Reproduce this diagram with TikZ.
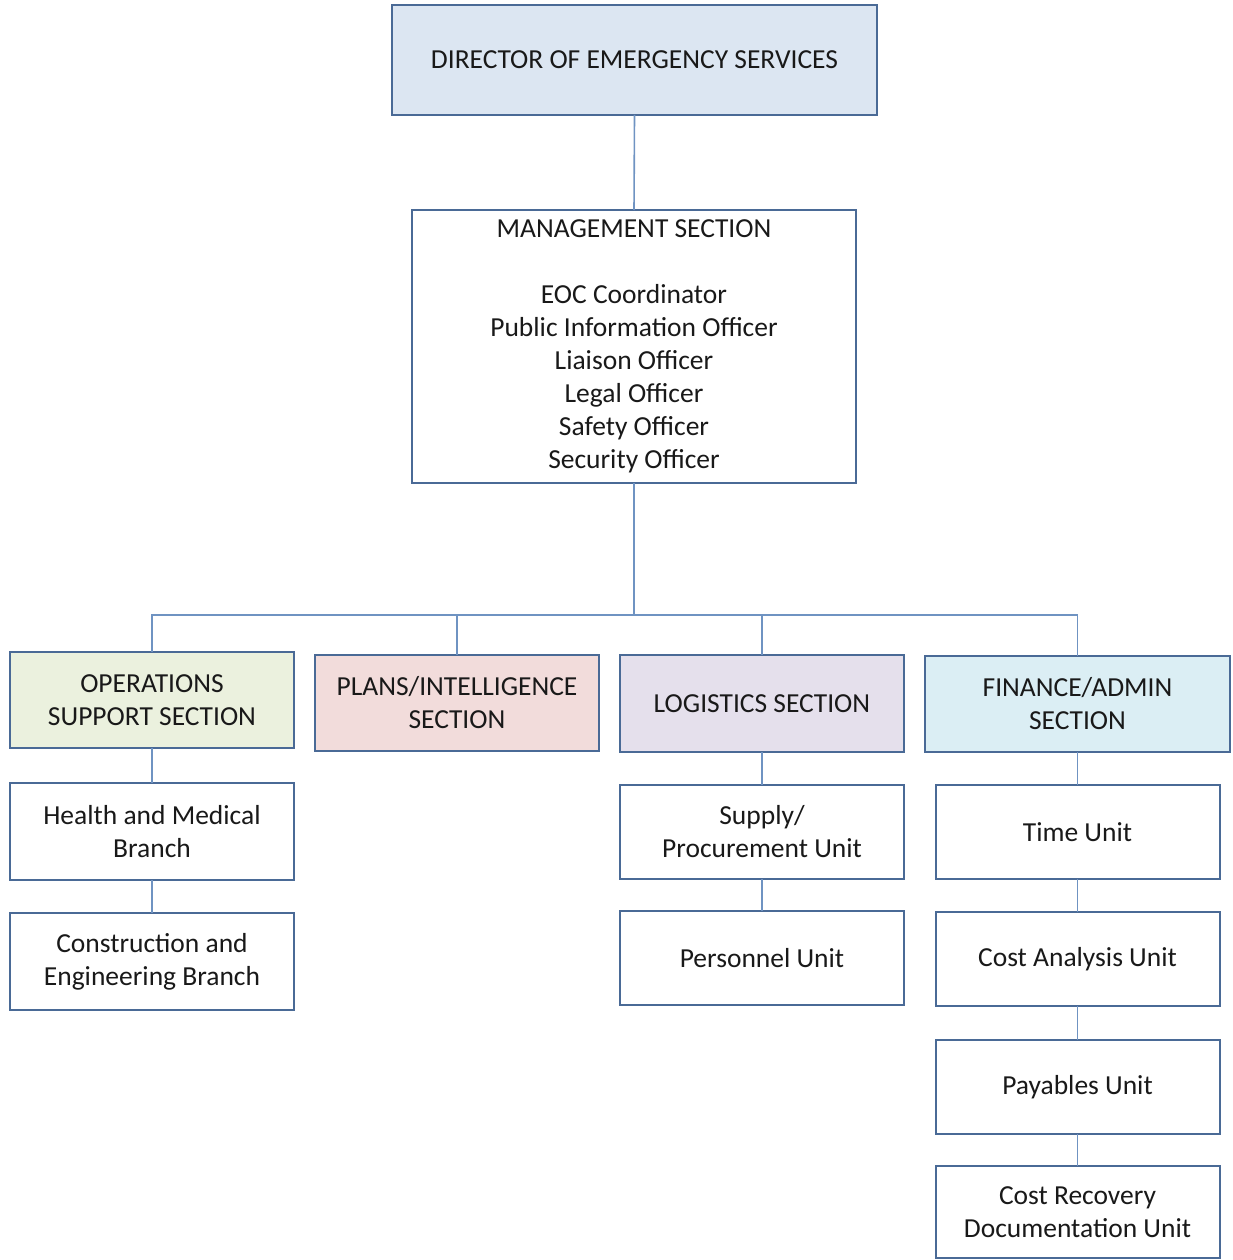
\documentclass[tikz,border=0pt]{standalone}
\usepackage{fontspec}
\setmainfont{Carlito}
\begin{document}
\begin{tikzpicture}[x=1pt,y=-1pt,
  box/.style={draw=boxline,line width=2pt,rectangle,inner sep=0pt,outer sep=0pt,align=center,
    font=\fontsize{27.5}{33}\selectfont,text=black!90},
  link/.style={draw=linkc,line width=1.6pt}]
\definecolor{boxline}{HTML}{4A6A96}
\definecolor{linkc}{HTML}{6F93C2}
\definecolor{dirfill}{HTML}{DCE6F2}
\definecolor{opsfill}{HTML}{EBF1DE}
\definecolor{plansfill}{HTML}{F2DCDB}
\definecolor{logfill}{HTML}{E5E0EC}
\definecolor{finfill}{HTML}{DBEEF4}
\useasboundingbox (0,0) rectangle (1233,1260);
% boxes: center x, center y, width, height
\node[box,fill=dirfill,minimum width=485pt,minimum height=110pt] (dir) at (634.5,60) {DIRECTOR OF EMERGENCY SERVICES};
\node[box,fill=white,minimum width=444pt,minimum height=273pt] (mgmt) at (634,346.5)
  {MANAGEMENT SECTION\\[33pt]EOC Coordinator\\Public Information Officer\\Liaison Officer\\Legal Officer\\Safety Officer\\Security Officer};
\node[box,fill=opsfill,minimum width=284pt,minimum height=96pt] (ops) at (152,700) {OPERATIONS\\SUPPORT SECTION};
\node[box,fill=plansfill,minimum width=284pt,minimum height=96pt] (plans) at (457,703) {PLANS/INTELLIGENCE\\SECTION};
\node[box,fill=logfill,minimum width=284pt,minimum height=97pt] (log) at (762,703.5) {LOGISTICS SECTION};
\node[box,fill=finfill,minimum width=305pt,minimum height=96pt] (fin) at (1077.5,704) {FINANCE/ADMIN\\SECTION};
\node[box,fill=white,minimum width=284pt,minimum height=97pt] (health) at (152,831.5) {Health and Medical\\Branch};
\node[box,fill=white,minimum width=284pt,minimum height=97pt] (constr) at (152,961.5) {Construction and\\Engineering Branch};
\node[box,fill=white,minimum width=284pt,minimum height=94pt] (supply) at (762,832) {Supply/\\Procurement Unit};
\node[box,fill=white,minimum width=284pt,minimum height=94pt] (pers) at (762,958) {Personnel Unit};
\node[box,fill=white,minimum width=284pt,minimum height=94pt] (time) at (1077.5,832) {Time Unit};
\node[box,fill=white,minimum width=284pt,minimum height=94pt] (cost) at (1077.5,959) {Cost Analysis Unit};
\node[box,fill=white,minimum width=284pt,minimum height=94pt] (pay) at (1077.5,1087) {Payables Unit};
\node[box,fill=white,minimum width=284pt,minimum height=92pt] (recov) at (1077.5,1212) {Cost Recovery\\Documentation Unit};
% connectors
\coordinate (bus) at (634,615);
\draw[link] (dir.south) -- (mgmt.north);
\draw[link] (mgmt.south) -- (bus);
\draw[link] (ops.north) -- (ops.north |- bus) -- (fin.north |- bus) -- (fin.north);
\draw[link] (plans.north) -- (plans.north |- bus);
\draw[link] (log.north) -- (log.north |- bus);
\draw[link] (ops.south) -- (health.north);
\draw[link] (health.south) -- (constr.north);
\draw[link] (log.south) -- (supply.north);
\draw[link] (supply.south) -- (pers.north);
\draw[link] (fin.south) -- (time.north);
\draw[link] (time.south) -- (cost.north);
\draw[link] (cost.south) -- (pay.north);
\draw[link] (pay.south) -- (recov.north);
\end{tikzpicture}
\end{document}
